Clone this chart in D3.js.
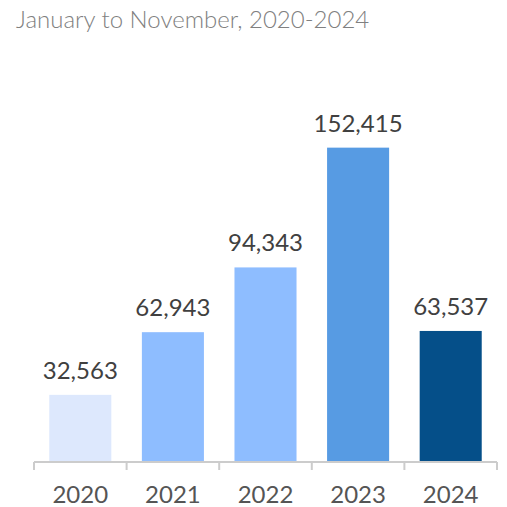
<!DOCTYPE html>
<html>
<head>
<meta charset="utf-8">
<script src="https://cdn.jsdelivr.net/npm/d3@7"></script>
<style>
  body { margin: 0; background: #fff; font-family: Lato, "Open Sans", sans-serif; }
  #chart { width: 507px; height: 507px; }
</style>
</head>
<body>
<div id="chart"></div>
<script>
const years = ["2020", "2021", "2022", "2023", "2024"];
const values = [32563, 62943, 94343, 152415, 63537];
const barColors = ["#DDE8FD", "#8EBDFF", "#8EBDFF", "#579BE3", "#054F89"];
const title = "January to November, 2020-2024";

const margin = { top: 132, right: 10, bottom: 45, left: 34 };
const width = 497 - margin.left;
const height = 462 - margin.top;

const svg = d3.select("#chart").append("svg")
    .attr("width", 507)
    .attr("height", 507);

svg.append("text")
    .attr("x", 16)
    .attr("y", 28)
    .attr("fill", "#808080")
    .attr("font-size", 24)
    .attr("font-weight", 300)
    .text(title);

const g = svg.append("g")
    .attr("transform", `translate(${margin.left},${margin.top})`);

const x = d3.scaleBand()
    .domain(years)
    .range([0, width])
    .paddingInner(0.33)
    .paddingOuter(0.165);

const y = d3.scaleLinear()
    .domain([0, 160000])
    .range([height, 0]);

const data = years.map((yr, i) => ({ year: yr, value: values[i], color: barColors[i] }));

g.selectAll(".bar")
    .data(data)
    .join("rect")
    .attr("class", "bar")
    .attr("x", d => x(d.year))
    .attr("y", d => y(d.value))
    .attr("width", x.bandwidth())
    .attr("height", d => height - y(d.value))
    .attr("fill", d => d.color);

g.selectAll(".label")
    .data(data)
    .join("text")
    .attr("class", "label")
    .attr("x", d => x(d.year) + x.bandwidth() / 2)
    .attr("y", d => y(d.value) - 16)
    .attr("text-anchor", "middle")
    .attr("fill", "#404040")
    .attr("font-size", 24)
    .text(d => d3.format(",")(d.value));

// axis line and tick marks at band edges
const edges = d3.range(years.length + 1).map(i => i * (width / years.length));
const axis = g.append("g").attr("transform", `translate(0,${height})`);
axis.append("line")
    .attr("x1", 0).attr("x2", width)
    .attr("stroke", "#cccccc").attr("stroke-width", 2);
axis.selectAll(".tick")
    .data(edges)
    .join("line")
    .attr("x1", d => d).attr("x2", d => d)
    .attr("y1", 0).attr("y2", 8)
    .attr("stroke", "#cccccc").attr("stroke-width", 2);

axis.selectAll(".yr")
    .data(years)
    .join("text")
    .attr("x", d => x(d) + x.bandwidth() / 2)
    .attr("y", 41)
    .attr("text-anchor", "middle")
    .attr("fill", "#555555")
    .attr("font-size", 24)
    .text(d => d);
</script>
</body>
</html>
